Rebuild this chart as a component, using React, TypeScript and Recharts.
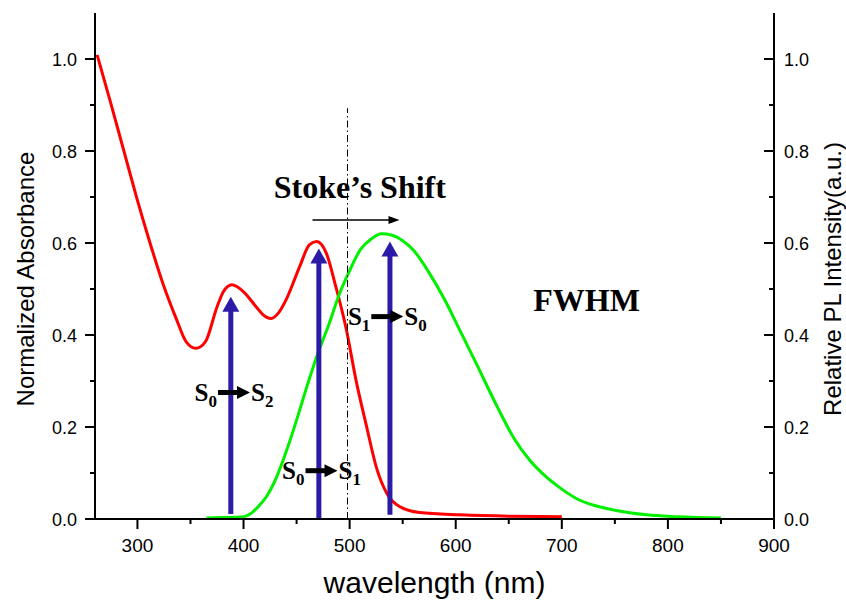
import type { ReactElement } from "react";
import { LineChart, Line, XAxis, YAxis, ReferenceLine, ReferenceDot } from "recharts";

// absorption spectrum (normalized)
const absNm = [262, 274, 287, 299, 312, 324, 337, 346, 355, 364, 375, 381, 389, 400, 412, 418, 426, 433, 440, 453, 462, 469, 478, 487, 497, 506, 516, 525, 535, 547, 566, 604, 650, 700];
const absValues = [1.009, 0.911, 0.802, 0.701, 0.599, 0.512, 0.433, 0.385, 0.371, 0.385, 0.461, 0.494, 0.509, 0.494, 0.461, 0.445, 0.436, 0.448, 0.476, 0.549, 0.596, 0.603, 0.578, 0.505, 0.411, 0.302, 0.201, 0.114, 0.056, 0.027, 0.014, 0.009, 0.006, 0.005];

// photoluminescence spectrum (relative)
const plNm = [365, 380, 400, 407, 415, 422, 430, 440, 450, 460, 470, 480, 490, 500, 510, 520, 530, 540, 550, 560, 575, 590, 605, 620, 640, 655, 670, 685, 700, 715, 730, 750, 780, 810, 850];
const plValues = [0.002, 0.003, 0.005, 0.012, 0.03, 0.05, 0.085, 0.145, 0.215, 0.29, 0.36, 0.42, 0.487, 0.54, 0.585, 0.608, 0.62, 0.617, 0.605, 0.585, 0.535, 0.475, 0.405, 0.335, 0.24, 0.175, 0.127, 0.092, 0.065, 0.043, 0.03, 0.019, 0.009, 0.005, 0.002];

// transition arrows: wavelength, foot and tip
const transitionNm = [388, 471, 538];
const transitionFoot = [0.011, 0, 0.009];
const transitionTip = [0.483, 0.588, 0.603];

// transition labels S_from -> S_to
const labelFrom = ["0", "0", "1"];
const labelTo = ["2", "1", "0"];
const labelNm = [391, 473.5, 535.5];
const labelY = [0.275, 0.105, 0.44];

const xTicks = [300, 350, 400, 450, 500, 550, 600, 650, 700, 750, 800, 850, 900];
const yTicks = [0, 0.1, 0.2, 0.3, 0.4, 0.5, 0.6, 0.7, 0.8, 0.9, 1.0];

const stokesNm = 498;
const stokesTop = 0.893;

const absData = absNm.map((nm, i) => ({ nm, v: absValues[i] }));
const plData = plNm.map((nm, i) => ({ nm, v: plValues[i] }));

const BLUE = "#2c1ba6";
const SANS = "'Liberation Sans', Arial, sans-serif";
const SERIF = "'Liberation Serif', 'Times New Roman', serif";

function XTick(props: any): ReactElement {
  const x = Number(props.x);
  const y = Number(props.y);
  const value = props.payload.value;
  const major = value % 100 === 0;
  return (
    <g>
      <rect x={x - 1} y={y} width={2} height={major ? 10 : 5} fill="#000" />
      {major && (
        <text x={x} y={y + 33} textAnchor="middle" fontSize={19} fontFamily={SANS} fill="#000">
          {value}
        </text>
      )}
    </g>
  );
}

function LeftTick(props: any): ReactElement {
  const x = Number(props.x);
  const y = Number(props.y);
  const value = props.payload.value;
  const major = Math.round(value * 10) % 2 === 0;
  const len = major ? 10 : 5;
  return (
    <g>
      <rect x={x - len} y={y - 1} width={len} height={2} fill="#000" />
      {major && (
        <text x={x - 18} y={y + 6.5} textAnchor="end" fontSize={18} fontFamily={SANS} fill="#000">
          {value.toFixed(1)}
        </text>
      )}
    </g>
  );
}

function RightTick(props: any): ReactElement {
  const x = Number(props.x);
  const y = Number(props.y);
  const value = props.payload.value;
  const major = Math.round(value * 10) % 2 === 0;
  const len = major ? 10 : 5;
  return (
    <g>
      <rect x={x - len} y={y - 1} width={len} height={2} fill="#000" />
      {major && (
        <text x={x + 10} y={y + 6.5} textAnchor="start" fontSize={18} fontFamily={SANS} fill="#000">
          {value.toFixed(1)}
        </text>
      )}
    </g>
  );
}

function TransitionArrow({ x1, y1, x2, y2 }: any): ReactElement {
  const head = 15;
  return (
    <g>
      <line x1={x1} x2={x2} y1={y1} y2={y2 + head - 1} stroke={BLUE} strokeWidth={5} />
      <polygon points={`${x2 - 8.5},${y2 + head} ${x2},${y2} ${x2 + 8.5},${y2 + head}`} fill={BLUE} />
    </g>
  );
}

function ShiftArrow({ x1, y1, x2, y2 }: any): ReactElement {
  return (
    <g>
      <line x1={x1} x2={x2 - 9} y1={y1} y2={y2} stroke="#000" strokeWidth={1.6} />
      <polygon points={`${x2 - 11},${y2 - 4} ${x2},${y2} ${x2 - 11},${y2 + 4}`} fill="#000" />
    </g>
  );
}

function TransitionLabel({ cx, cy, from, to }: any): ReactElement {
  return (
    <g fontFamily={SERIF} fontWeight="bold" fill="#000">
      <text x={cx - 17} y={cy + 8} textAnchor="end" fontSize={25}>
        S<tspan fontSize={17} dy={6}>{from}</tspan>
      </text>
      <line x1={cx - 16} x2={cx + 4} y1={cy} y2={cy} stroke="#000" strokeWidth={5} />
      <polygon points={`${cx + 3},${cy - 6.5} ${cx + 16},${cy} ${cx + 3},${cy + 6.5}`} fill="#000" />
      <text x={cx + 17} y={cy + 8} textAnchor="start" fontSize={25}>
        S<tspan fontSize={17} dy={6}>{to}</tspan>
      </text>
    </g>
  );
}

function BoldText({ cx, cy, text }: any): ReactElement {
  return (
    <text x={cx} y={cy} textAnchor="middle" fontSize={32} fontWeight="bold" fontFamily={SERIF} fill="#000">
      {text}
    </text>
  );
}

export default function App(): ReactElement {
  return (
    <div style={{ width: 846, height: 603, background: "#fff" }}>
      <style>{"body{margin:0}"}</style>
      <LineChart width={846} height={603} margin={{ top: 13, right: 12, bottom: 24, left: 35 }}>
        <XAxis
          dataKey="nm"
          type="number"
          domain={[260, 900]}
          allowDataOverflow
          ticks={xTicks}
          interval={0}
          tickSize={0}
          tickMargin={0}
          tick={<XTick />}
          tickLine={false}
          height={60}
          axisLine={{ stroke: "#000", strokeWidth: 2 }}
          label={(props: any) => {
            const vb = props.viewBox;
            return (
              <text x={vb.x + vb.width / 2} y={vb.y + 74} textAnchor="middle" fontSize={30} fontFamily={SANS} fill="#000">
                wavelength (nm)
              </text>
            );
          }}
        />
        <XAxis
          xAxisId="top"
          orientation="top"
          type="number"
          domain={[260, 900]}
          height={0}
          tick={false}
          tickLine={false}
          axisLine={{ stroke: "#000", strokeWidth: 2 }}
        />
        <YAxis
          yAxisId="left"
          type="number"
          domain={[0, 1.1]}
          allowDataOverflow
          ticks={yTicks}
          interval={0}
          tickSize={0}
          tickMargin={0}
          tick={<LeftTick />}
          tickLine={false}
          width={60}
          axisLine={{ stroke: "#000", strokeWidth: 2 }}
          label={(props: any) => {
            const vb = props.viewBox;
            const x = vb.x - 10;
            const y = vb.y + vb.height / 2 + 13;
            return (
              <text x={x} y={y} transform={`rotate(-90 ${x} ${y})`} textAnchor="middle" dominantBaseline="central" fontSize={24} fontFamily={SANS} fill="#000">
                Normalized Absorbance
              </text>
            );
          }}
        />
        <YAxis
          yAxisId="right"
          orientation="right"
          type="number"
          domain={[0, 1.1]}
          allowDataOverflow
          ticks={yTicks}
          interval={0}
          tickSize={0}
          tickMargin={0}
          tick={<RightTick />}
          tickLine={false}
          width={60}
          axisLine={{ stroke: "#000", strokeWidth: 2 }}
          label={(props: any) => {
            const vb = props.viewBox;
            const x = vb.x + 58;
            const y = vb.y + vb.height / 2 + 13;
            return (
              <text x={x} y={y} transform={`rotate(-90 ${x} ${y})`} textAnchor="middle" dominantBaseline="central" fontSize={24} fontFamily={SANS} fill="#000">
                Relative PL Intensity(a.u.)
              </text>
            );
          }}
        />

        <Line yAxisId="left" data={absData} dataKey="v" type="monotone" stroke="#ff0000" strokeWidth={3} dot={false} isAnimationActive={false} />
        <Line yAxisId="right" data={plData} dataKey="v" type="monotone" stroke="#00f000" strokeWidth={3} dot={false} isAnimationActive={false} />

        <ReferenceLine
          yAxisId="left"
          segment={[{ x: stokesNm, y: 0 }, { x: stokesNm, y: stokesTop }]}
          stroke="#000"
          strokeWidth={1}
          strokeDasharray="7 3 1.5 3"
        />
        <ReferenceLine
          yAxisId="left"
          segment={[{ x: 465, y: 0.65 }, { x: 547, y: 0.65 }]}
          shape={(p: any) => <ShiftArrow {...p} />}
        />
        {transitionNm.map((nm, i) => (
          <ReferenceLine
            key={`t${nm}`}
            yAxisId="left"
            segment={[{ x: nm, y: transitionFoot[i] }, { x: nm, y: transitionTip[i] }]}
            shape={(p: any) => <TransitionArrow {...p} />}
          />
        ))}
        {labelNm.map((nm, i) => (
          <ReferenceDot
            key={`l${nm}`}
            yAxisId="left"
            x={nm}
            y={labelY[i]}
            r={0}
            shape={(p: any) => <TransitionLabel cx={p.cx} cy={p.cy} from={labelFrom[i]} to={labelTo[i]} />}
          />
        ))}
        <ReferenceDot yAxisId="left" x={509.6} y={0.698} r={0} shape={(p: any) => <BoldText cx={p.cx} cy={p.cy} text="Stoke’s Shift" />} />
        <ReferenceDot yAxisId="left" x={723.4} y={0.452} r={0} shape={(p: any) => <BoldText cx={p.cx} cy={p.cy} text="FWHM" />} />
      </LineChart>
    </div>
  );
}
